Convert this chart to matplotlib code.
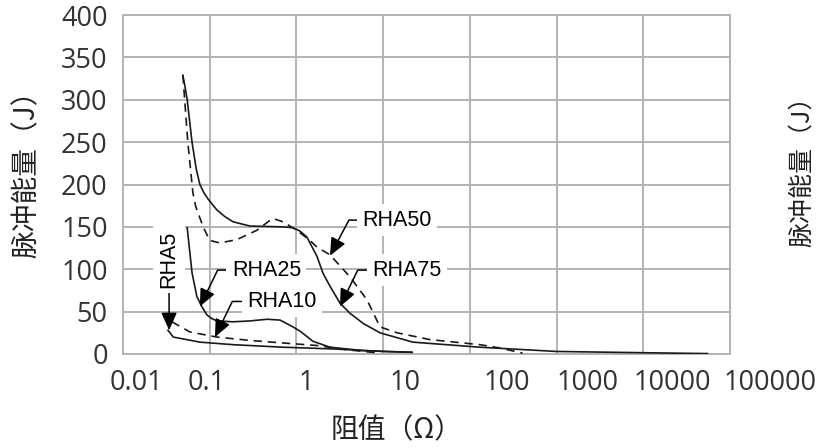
import matplotlib
matplotlib.use("Agg")
import matplotlib.pyplot as plt
import matplotlib.transforms as mtransforms

# ---- data (x = resistance in ohm, y = pulse energy in J) ----
rha75_x = [0.049, 0.052, 0.055, 0.0625, 0.07, 0.077, 0.086, 0.0955, 0.121, 0.15, 0.186,
           0.29, 0.70, 0.91, 1.1, 1.32, 1.73, 2.03, 2.44, 3.18, 4.15, 5.9, 9.2, 22,
           131, 1000, 10000, 55000]
rha75_y = [329, 315, 300, 250, 218, 200, 190, 183, 170, 162, 156,
           151, 150, 149, 145, 138, 115, 95, 80, 60, 48, 36, 25, 14,
           8, 3, 1.5, 0.5]

rha50_x = [0.049, 0.056, 0.064, 0.069, 0.084, 0.10, 0.131, 0.206, 0.35, 0.53, 0.70,
           1.01, 1.43, 1.73, 2.44, 4.15, 6.5, 8.0, 9.2, 14.5, 34.6, 131, 224, 405]
rha50_y = [329, 249, 190, 174, 150, 134, 131, 135, 146, 160, 156,
           146, 134, 126, 117, 91, 64, 45, 32, 25, 17, 11, 7, 1]

rha25_x = [0.055, 0.0625, 0.071, 0.081, 0.093, 0.105, 0.121, 0.186, 0.29, 0.46, 0.65,
           0.91, 1.10, 1.55, 2.44, 5.9, 21.5]
rha25_y = [149, 96, 68, 56, 46, 42, 39, 38, 39, 41, 40,
           32, 27, 15, 8, 4, 2]

rha10_x = [0.0367, 0.059, 0.121, 0.29, 0.70, 1.73, 3.84, 9.2]
rha10_y = [38, 26, 20, 16, 13, 10, 5, 1]

rha5_x = [0.033, 0.038, 0.077, 0.186, 0.70, 2.6, 10, 21.5]
rha5_y = [28, 20, 14, 11, 8, 6, 3, 2]

xticks = [0.01, 0.1, 1, 10, 100, 1000, 10000, 100000]
xtick_labels = ["0.01", "0.1", "1", "10", "100", "1000", "10000", "100000"]
yticks = [0, 50, 100, 150, 200, 250, 300, 350, 400]

# label text, arrow tip (x, y), text anchor (x, y), angle of the leader
labels = [
    ("RHA50", (2.44, 116), (5.7, 158), 62),
    ("RHA75", (3.18, 56), (7.45, 99), 64),
    ("RHA25", (0.077, 56), (0.18, 99), 64),
    ("RHA10", (0.115, 20), (0.269, 62), 64),
]
rha5_tip = (0.034, 28)
rha5_text = (0.034, 112)

# the tick labels in the reference sit off their grid lines (pixels)
xtick_nudge_px = [13, -3, 10, 22, 37, 31, 29, 40]

CJK = ["Noto Sans CJK SC", "DejaVu Sans"]
GRID = "#b3b3b3"

fig = plt.figure(figsize=(8.16, 4.48), dpi=100)
ax = fig.add_axes([123 / 816, 1 - 354 / 448, 607 / 816, 339 / 448])

dash = (0, (5, 3.5))
ax.plot(rha75_x, rha75_y, color="#1a1a1a", lw=1.2, zorder=3)
ax.plot(rha50_x, rha50_y, color="#1a1a1a", lw=1.2, ls=dash, zorder=3)
ax.plot(rha25_x, rha25_y, color="#1a1a1a", lw=1.2, zorder=3)
ax.plot(rha10_x, rha10_y, color="#1a1a1a", lw=1.2, ls=dash, zorder=3)
ax.plot(rha5_x, rha5_y, color="#1a1a1a", lw=1.2, zorder=3)

ax.set_xscale("log")
ax.set_xlim(0.01, 100000)
ax.set_ylim(0, 400)
ax.set_xticks(xticks)
ax.set_xticklabels(xtick_labels)
ax.minorticks_off()
ax.set_yticks(yticks)
ax.grid(True, color=GRID, lw=1.4, zorder=0)
ax.set_axisbelow(True)
for sp in ax.spines.values():
    sp.set_color(GRID)
    sp.set_linewidth(1.4)
ax.tick_params(length=0, labelsize=19.5, colors="#333333")
ax.tick_params(axis="y", pad=11)
ax.tick_params(axis="x", pad=11)
for lab in ax.get_xticklabels() + ax.get_yticklabels():
    lab.set_fontfamily("Open Sans")

for lab, dx in zip(ax.get_xticklabels(), xtick_nudge_px):
    shift = mtransforms.ScaledTranslation(dx / 100, 0, fig.dpi_scale_trans)
    lab.set_transform(lab.get_transform() + shift)

box = dict(boxstyle="square,pad=0.25", fc="white", ec="none")
arrow = dict(arrowstyle="-|>,head_length=0.45,head_width=0.2", color="black",
             lw=1.1, mutation_scale=24, shrinkA=0, shrinkB=0)
for text, tip, pos, ang in labels:
    ax.annotate(text, xy=tip, xytext=pos, ha="left", va="center",
                fontsize=15.5, family="Liberation Sans", bbox=box, zorder=5,
                arrowprops=dict(arrow, relpos=(0, 0.5),
                                connectionstyle=f"angle,angleA=0,angleB={ang},rad=0"))
ax.annotate("RHA5", xy=rha5_tip, xytext=rha5_text, ha="center", va="center",
            rotation=90, fontsize=15.5, family="Liberation Sans", bbox=box, zorder=5,
            arrowprops=dict(arrow))

fig.text(27 / 816, 1 - 167 / 448, "脉冲能量（J）", rotation=90, ha="center",
         va="center", fontsize=20, family=CJK, color="#222222")
fig.text(397 / 816, 1 - 430 / 448, "阻值（Ω）", ha="center", va="center",
         fontsize=20, family=CJK, color="#222222")
# duplicate of the y label at the right edge
fig.text(802 / 816, 1 - 165 / 448, "脉冲能量（J）", rotation=90, ha="center",
         va="center", fontsize=18, family=CJK, color="#222222")

fig.savefig("out.png", dpi=100)
